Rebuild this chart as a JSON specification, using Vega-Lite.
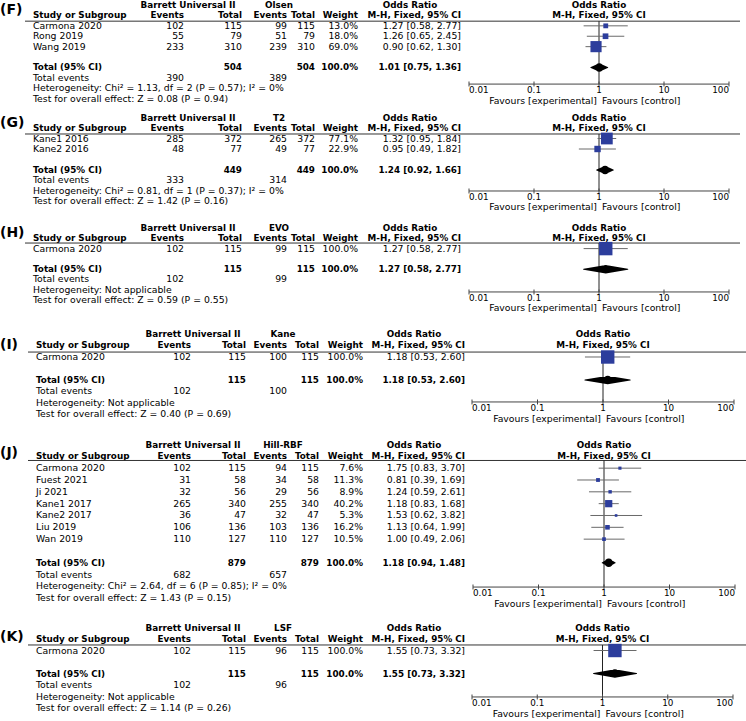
{
"$schema": "https://vega.github.io/schema/vega-lite/v6.json",
"padding": 0,
"spacing": 0,
"bounds": "flush",
"background": "white",
"config": {"view": {"stroke": null}, "text": {"font": "DejaVu Sans", "fontSize": 9.3, "color": "#000"}},
"datasets": {
"cells": [
{"panel":"F","kind":"panel","row":0.5,"col":0,"text":"(F)"},
{"panel":"F","kind":"head1","row":0,"col":4,"text":"Barrett Universal II"},
{"panel":"F","kind":"head1","row":0,"col":6,"text":"Olsen"},
{"panel":"F","kind":"head1","row":0,"col":10,"text":"Odds Ratio"},
{"panel":"F","kind":"head2","row":1,"col":2,"text":"Study or Subgroup"},
{"panel":"F","kind":"head2","row":1,"col":3,"text":"Events"},
{"panel":"F","kind":"head2","row":1,"col":5,"text":"Total"},
{"panel":"F","kind":"head2","row":1,"col":7,"text":"Events"},
{"panel":"F","kind":"head2","row":1,"col":8,"text":"Total"},
{"panel":"F","kind":"head2","row":1,"col":9,"text":"Weight"},
{"panel":"F","kind":"head2","row":1,"col":11,"text":"M-H, Fixed, 95% CI"},
{"panel":"F","kind":"study","row":2,"col":2,"text":"Carmona 2020"},
{"panel":"F","kind":"study","row":2,"col":3,"text":"102"},
{"panel":"F","kind":"study","row":2,"col":5,"text":"115"},
{"panel":"F","kind":"study","row":2,"col":7,"text":"99"},
{"panel":"F","kind":"study","row":2,"col":8,"text":"115"},
{"panel":"F","kind":"study","row":2,"col":9,"text":"13.0%"},
{"panel":"F","kind":"study","row":2,"col":11,"text":"1.27 [0.58, 2.77]"},
{"panel":"F","kind":"study","row":3,"col":2,"text":"Rong 2019"},
{"panel":"F","kind":"study","row":3,"col":3,"text":"55"},
{"panel":"F","kind":"study","row":3,"col":5,"text":"79"},
{"panel":"F","kind":"study","row":3,"col":7,"text":"51"},
{"panel":"F","kind":"study","row":3,"col":8,"text":"79"},
{"panel":"F","kind":"study","row":3,"col":9,"text":"18.0%"},
{"panel":"F","kind":"study","row":3,"col":11,"text":"1.26 [0.65, 2.45]"},
{"panel":"F","kind":"study","row":4,"col":2,"text":"Wang 2019"},
{"panel":"F","kind":"study","row":4,"col":3,"text":"233"},
{"panel":"F","kind":"study","row":4,"col":5,"text":"310"},
{"panel":"F","kind":"study","row":4,"col":7,"text":"239"},
{"panel":"F","kind":"study","row":4,"col":8,"text":"310"},
{"panel":"F","kind":"study","row":4,"col":9,"text":"69.0%"},
{"panel":"F","kind":"study","row":4,"col":11,"text":"0.90 [0.62, 1.30]"},
{"panel":"F","kind":"total","row":6,"col":2,"text":"Total (95% CI)"},
{"panel":"F","kind":"total","row":6,"col":5,"text":"504"},
{"panel":"F","kind":"total","row":6,"col":8,"text":"504"},
{"panel":"F","kind":"total","row":6,"col":9,"text":"100.0%"},
{"panel":"F","kind":"total","row":6,"col":11,"text":"1.01 [0.75, 1.36]"},
{"panel":"F","kind":"totev","row":7,"col":2,"text":"Total events"},
{"panel":"F","kind":"totev","row":7,"col":3,"text":"390"},
{"panel":"F","kind":"totev","row":7,"col":7,"text":"389"},
{"panel":"F","kind":"note","row":8,"col":2,"text":"Heterogeneity: Chi² = 1.13, df = 2 (P = 0.57); I² = 0%"},
{"panel":"F","kind":"note","row":9,"col":2,"text":"Test for overall effect: Z = 0.08 (P = 0.94)"},

{"panel":"G","kind":"panel","row":0.5,"col":0,"text":"(G)"},
{"panel":"G","kind":"head1","row":0,"col":4,"text":"Barrett Universal II"},
{"panel":"G","kind":"head1","row":0,"col":6,"text":"T2"},
{"panel":"G","kind":"head1","row":0,"col":10,"text":"Odds Ratio"},
{"panel":"G","kind":"head2","row":1,"col":2,"text":"Study or Subgroup"},
{"panel":"G","kind":"head2","row":1,"col":3,"text":"Events"},
{"panel":"G","kind":"head2","row":1,"col":5,"text":"Total"},
{"panel":"G","kind":"head2","row":1,"col":7,"text":"Events"},
{"panel":"G","kind":"head2","row":1,"col":8,"text":"Total"},
{"panel":"G","kind":"head2","row":1,"col":9,"text":"Weight"},
{"panel":"G","kind":"head2","row":1,"col":11,"text":"M-H, Fixed, 95% CI"},
{"panel":"G","kind":"study","row":2,"col":2,"text":"Kane1 2016"},
{"panel":"G","kind":"study","row":2,"col":3,"text":"285"},
{"panel":"G","kind":"study","row":2,"col":5,"text":"372"},
{"panel":"G","kind":"study","row":2,"col":7,"text":"265"},
{"panel":"G","kind":"study","row":2,"col":8,"text":"372"},
{"panel":"G","kind":"study","row":2,"col":9,"text":"77.1%"},
{"panel":"G","kind":"study","row":2,"col":11,"text":"1.32 [0.95, 1.84]"},
{"panel":"G","kind":"study","row":3,"col":2,"text":"Kane2 2016"},
{"panel":"G","kind":"study","row":3,"col":3,"text":"48"},
{"panel":"G","kind":"study","row":3,"col":5,"text":"77"},
{"panel":"G","kind":"study","row":3,"col":7,"text":"49"},
{"panel":"G","kind":"study","row":3,"col":8,"text":"77"},
{"panel":"G","kind":"study","row":3,"col":9,"text":"22.9%"},
{"panel":"G","kind":"study","row":3,"col":11,"text":"0.95 [0.49, 1.82]"},
{"panel":"G","kind":"total","row":5,"col":2,"text":"Total (95% CI)"},
{"panel":"G","kind":"total","row":5,"col":5,"text":"449"},
{"panel":"G","kind":"total","row":5,"col":8,"text":"449"},
{"panel":"G","kind":"total","row":5,"col":9,"text":"100.0%"},
{"panel":"G","kind":"total","row":5,"col":11,"text":"1.24 [0.92, 1.66]"},
{"panel":"G","kind":"totev","row":6,"col":2,"text":"Total events"},
{"panel":"G","kind":"totev","row":6,"col":3,"text":"333"},
{"panel":"G","kind":"totev","row":6,"col":7,"text":"314"},
{"panel":"G","kind":"note","row":7,"col":2,"text":"Heterogeneity: Chi² = 0.81, df = 1 (P = 0.37); I² = 0%"},
{"panel":"G","kind":"note","row":8,"col":2,"text":"Test for overall effect: Z = 1.42 (P = 0.16)"},

{"panel":"H","kind":"panel","row":0.46,"col":0,"text":"(H)"},
{"panel":"H","kind":"head1","row":0,"col":4,"text":"Barrett Universal II"},
{"panel":"H","kind":"head1","row":0,"col":6,"text":"EVO"},
{"panel":"H","kind":"head1","row":0,"col":10,"text":"Odds Ratio"},
{"panel":"H","kind":"head2","row":1,"col":2,"text":"Study or Subgroup"},
{"panel":"H","kind":"head2","row":1,"col":3,"text":"Events"},
{"panel":"H","kind":"head2","row":1,"col":5,"text":"Total"},
{"panel":"H","kind":"head2","row":1,"col":7,"text":"Events"},
{"panel":"H","kind":"head2","row":1,"col":8,"text":"Total"},
{"panel":"H","kind":"head2","row":1,"col":9,"text":"Weight"},
{"panel":"H","kind":"head2","row":1,"col":11,"text":"M-H, Fixed, 95% CI"},
{"panel":"H","kind":"study","row":2,"col":2,"text":"Carmona 2020"},
{"panel":"H","kind":"study","row":2,"col":3,"text":"102"},
{"panel":"H","kind":"study","row":2,"col":5,"text":"115"},
{"panel":"H","kind":"study","row":2,"col":7,"text":"99"},
{"panel":"H","kind":"study","row":2,"col":8,"text":"115"},
{"panel":"H","kind":"study","row":2,"col":9,"text":"100.0%"},
{"panel":"H","kind":"study","row":2,"col":11,"text":"1.27 [0.58, 2.77]"},
{"panel":"H","kind":"total","row":4,"col":2,"text":"Total (95% CI)"},
{"panel":"H","kind":"total","row":4,"col":5,"text":"115"},
{"panel":"H","kind":"total","row":4,"col":8,"text":"115"},
{"panel":"H","kind":"total","row":4,"col":9,"text":"100.0%"},
{"panel":"H","kind":"total","row":4,"col":11,"text":"1.27 [0.58, 2.77]"},
{"panel":"H","kind":"totev","row":5,"col":2,"text":"Total events"},
{"panel":"H","kind":"totev","row":5,"col":3,"text":"102"},
{"panel":"H","kind":"totev","row":5,"col":7,"text":"99"},
{"panel":"H","kind":"note","row":6,"col":2,"text":"Heterogeneity: Not applicable"},
{"panel":"H","kind":"note","row":7,"col":2,"text":"Test for overall effect: Z = 0.59 (P = 0.55)"},

{"panel":"I","kind":"panel","row":0.96,"col":0,"text":"(I)"},
{"panel":"I","kind":"head1","row":0,"col":4,"text":"Barrett Universal II"},
{"panel":"I","kind":"head1","row":0,"col":6,"text":"Kane"},
{"panel":"I","kind":"head1","row":0,"col":10,"text":"Odds Ratio"},
{"panel":"I","kind":"head2","row":1,"col":2,"text":"Study or Subgroup"},
{"panel":"I","kind":"head2","row":1,"col":3,"text":"Events"},
{"panel":"I","kind":"head2","row":1,"col":5,"text":"Total"},
{"panel":"I","kind":"head2","row":1,"col":7,"text":"Events"},
{"panel":"I","kind":"head2","row":1,"col":8,"text":"Total"},
{"panel":"I","kind":"head2","row":1,"col":9,"text":"Weight"},
{"panel":"I","kind":"head2","row":1,"col":11,"text":"M-H, Fixed, 95% CI"},
{"panel":"I","kind":"study","row":2,"col":2,"text":"Carmona 2020"},
{"panel":"I","kind":"study","row":2,"col":3,"text":"102"},
{"panel":"I","kind":"study","row":2,"col":5,"text":"115"},
{"panel":"I","kind":"study","row":2,"col":7,"text":"100"},
{"panel":"I","kind":"study","row":2,"col":8,"text":"115"},
{"panel":"I","kind":"study","row":2,"col":9,"text":"100.0%"},
{"panel":"I","kind":"study","row":2,"col":11,"text":"1.18 [0.53, 2.60]"},
{"panel":"I","kind":"total","row":4,"col":2,"text":"Total (95% CI)"},
{"panel":"I","kind":"total","row":4,"col":5,"text":"115"},
{"panel":"I","kind":"total","row":4,"col":8,"text":"115"},
{"panel":"I","kind":"total","row":4,"col":9,"text":"100.0%"},
{"panel":"I","kind":"total","row":4,"col":11,"text":"1.18 [0.53, 2.60]"},
{"panel":"I","kind":"totev","row":5,"col":2,"text":"Total events"},
{"panel":"I","kind":"totev","row":5,"col":3,"text":"102"},
{"panel":"I","kind":"totev","row":5,"col":7,"text":"100"},
{"panel":"I","kind":"note","row":6,"col":2,"text":"Heterogeneity: Not applicable"},
{"panel":"I","kind":"note","row":7,"col":2,"text":"Test for overall effect: Z = 0.40 (P = 0.69)"},

{"panel":"J","kind":"panel","row":0.74,"col":0,"text":"(J)"},
{"panel":"J","kind":"head1","row":0,"col":4,"text":"Barrett Universal II"},
{"panel":"J","kind":"head1","row":0,"col":6,"text":"Hill-RBF"},
{"panel":"J","kind":"head1","row":0,"col":10,"text":"Odds Ratio"},
{"panel":"J","kind":"head2","row":1,"col":2,"text":"Study or Subgroup"},
{"panel":"J","kind":"head2","row":1,"col":3,"text":"Events"},
{"panel":"J","kind":"head2","row":1,"col":5,"text":"Total"},
{"panel":"J","kind":"head2","row":1,"col":7,"text":"Events"},
{"panel":"J","kind":"head2","row":1,"col":8,"text":"Total"},
{"panel":"J","kind":"head2","row":1,"col":9,"text":"Weight"},
{"panel":"J","kind":"head2","row":1,"col":11,"text":"M-H, Fixed, 95% CI"},
{"panel":"J","kind":"study","row":2,"col":2,"text":"Carmona 2020"},
{"panel":"J","kind":"study","row":2,"col":3,"text":"102"},
{"panel":"J","kind":"study","row":2,"col":5,"text":"115"},
{"panel":"J","kind":"study","row":2,"col":7,"text":"94"},
{"panel":"J","kind":"study","row":2,"col":8,"text":"115"},
{"panel":"J","kind":"study","row":2,"col":9,"text":"7.6%"},
{"panel":"J","kind":"study","row":2,"col":11,"text":"1.75 [0.83, 3.70]"},
{"panel":"J","kind":"study","row":3,"col":2,"text":"Fuest 2021"},
{"panel":"J","kind":"study","row":3,"col":3,"text":"31"},
{"panel":"J","kind":"study","row":3,"col":5,"text":"58"},
{"panel":"J","kind":"study","row":3,"col":7,"text":"34"},
{"panel":"J","kind":"study","row":3,"col":8,"text":"58"},
{"panel":"J","kind":"study","row":3,"col":9,"text":"11.3%"},
{"panel":"J","kind":"study","row":3,"col":11,"text":"0.81 [0.39, 1.69]"},
{"panel":"J","kind":"study","row":4,"col":2,"text":"Ji 2021"},
{"panel":"J","kind":"study","row":4,"col":3,"text":"32"},
{"panel":"J","kind":"study","row":4,"col":5,"text":"56"},
{"panel":"J","kind":"study","row":4,"col":7,"text":"29"},
{"panel":"J","kind":"study","row":4,"col":8,"text":"56"},
{"panel":"J","kind":"study","row":4,"col":9,"text":"8.9%"},
{"panel":"J","kind":"study","row":4,"col":11,"text":"1.24 [0.59, 2.61]"},
{"panel":"J","kind":"study","row":5,"col":2,"text":"Kane1 2017"},
{"panel":"J","kind":"study","row":5,"col":3,"text":"265"},
{"panel":"J","kind":"study","row":5,"col":5,"text":"340"},
{"panel":"J","kind":"study","row":5,"col":7,"text":"255"},
{"panel":"J","kind":"study","row":5,"col":8,"text":"340"},
{"panel":"J","kind":"study","row":5,"col":9,"text":"40.2%"},
{"panel":"J","kind":"study","row":5,"col":11,"text":"1.18 [0.83, 1.68]"},
{"panel":"J","kind":"study","row":6,"col":2,"text":"Kane2 2017"},
{"panel":"J","kind":"study","row":6,"col":3,"text":"36"},
{"panel":"J","kind":"study","row":6,"col":5,"text":"47"},
{"panel":"J","kind":"study","row":6,"col":7,"text":"32"},
{"panel":"J","kind":"study","row":6,"col":8,"text":"47"},
{"panel":"J","kind":"study","row":6,"col":9,"text":"5.3%"},
{"panel":"J","kind":"study","row":6,"col":11,"text":"1.53 [0.62, 3.82]"},
{"panel":"J","kind":"study","row":7,"col":2,"text":"Liu 2019"},
{"panel":"J","kind":"study","row":7,"col":3,"text":"106"},
{"panel":"J","kind":"study","row":7,"col":5,"text":"136"},
{"panel":"J","kind":"study","row":7,"col":7,"text":"103"},
{"panel":"J","kind":"study","row":7,"col":8,"text":"136"},
{"panel":"J","kind":"study","row":7,"col":9,"text":"16.2%"},
{"panel":"J","kind":"study","row":7,"col":11,"text":"1.13 [0.64, 1.99]"},
{"panel":"J","kind":"study","row":8,"col":2,"text":"Wan 2019"},
{"panel":"J","kind":"study","row":8,"col":3,"text":"110"},
{"panel":"J","kind":"study","row":8,"col":5,"text":"127"},
{"panel":"J","kind":"study","row":8,"col":7,"text":"110"},
{"panel":"J","kind":"study","row":8,"col":8,"text":"127"},
{"panel":"J","kind":"study","row":8,"col":9,"text":"10.5%"},
{"panel":"J","kind":"study","row":8,"col":11,"text":"1.00 [0.49, 2.06]"},
{"panel":"J","kind":"total","row":10,"col":2,"text":"Total (95% CI)"},
{"panel":"J","kind":"total","row":10,"col":5,"text":"879"},
{"panel":"J","kind":"total","row":10,"col":8,"text":"879"},
{"panel":"J","kind":"total","row":10,"col":9,"text":"100.0%"},
{"panel":"J","kind":"total","row":10,"col":11,"text":"1.18 [0.94, 1.48]"},
{"panel":"J","kind":"totev","row":11,"col":2,"text":"Total events"},
{"panel":"J","kind":"totev","row":11,"col":3,"text":"682"},
{"panel":"J","kind":"totev","row":11,"col":7,"text":"657"},
{"panel":"J","kind":"note","row":12,"col":2,"text":"Heterogeneity: Chi² = 2.64, df = 6 (P = 0.85); I² = 0%"},
{"panel":"J","kind":"note","row":13,"col":2,"text":"Test for overall effect: Z = 1.43 (P = 0.15)"},

{"panel":"K","kind":"panel","row":0.8,"col":0,"text":"(K)"},
{"panel":"K","kind":"head1","row":0,"col":4,"text":"Barrett Universal II"},
{"panel":"K","kind":"head1","row":0,"col":6,"text":"LSF"},
{"panel":"K","kind":"head1","row":0,"col":10,"text":"Odds Ratio"},
{"panel":"K","kind":"head2","row":1,"col":2,"text":"Study or Subgroup"},
{"panel":"K","kind":"head2","row":1,"col":3,"text":"Events"},
{"panel":"K","kind":"head2","row":1,"col":5,"text":"Total"},
{"panel":"K","kind":"head2","row":1,"col":7,"text":"Events"},
{"panel":"K","kind":"head2","row":1,"col":8,"text":"Total"},
{"panel":"K","kind":"head2","row":1,"col":9,"text":"Weight"},
{"panel":"K","kind":"head2","row":1,"col":11,"text":"M-H, Fixed, 95% CI"},
{"panel":"K","kind":"study","row":2,"col":2,"text":"Carmona 2020"},
{"panel":"K","kind":"study","row":2,"col":3,"text":"102"},
{"panel":"K","kind":"study","row":2,"col":5,"text":"115"},
{"panel":"K","kind":"study","row":2,"col":7,"text":"96"},
{"panel":"K","kind":"study","row":2,"col":8,"text":"115"},
{"panel":"K","kind":"study","row":2,"col":9,"text":"100.0%"},
{"panel":"K","kind":"study","row":2,"col":11,"text":"1.55 [0.73, 3.32]"},
{"panel":"K","kind":"total","row":4,"col":2,"text":"Total (95% CI)"},
{"panel":"K","kind":"total","row":4,"col":5,"text":"115"},
{"panel":"K","kind":"total","row":4,"col":8,"text":"115"},
{"panel":"K","kind":"total","row":4,"col":9,"text":"100.0%"},
{"panel":"K","kind":"total","row":4,"col":11,"text":"1.55 [0.73, 3.32]"},
{"panel":"K","kind":"totev","row":5,"col":2,"text":"Total events"},
{"panel":"K","kind":"totev","row":5,"col":3,"text":"102"},
{"panel":"K","kind":"totev","row":5,"col":7,"text":"96"},
{"panel":"K","kind":"note","row":6,"col":2,"text":"Heterogeneity: Not applicable"},
{"panel":"K","kind":"note","row":7,"col":2,"text":"Test for overall effect: Z = 1.14 (P = 0.26)"}
],
"studies": [
{"panel":"F","row":2,"or":1.27,"lo":0.58,"hi":2.77,"weight":13.0},
{"panel":"F","row":3,"or":1.26,"lo":0.65,"hi":2.45,"weight":18.0},
{"panel":"F","row":4,"or":0.90,"lo":0.62,"hi":1.30,"weight":69.0},
{"panel":"G","row":2,"or":1.32,"lo":0.95,"hi":1.84,"weight":77.1},
{"panel":"G","row":3,"or":0.95,"lo":0.49,"hi":1.82,"weight":22.9},
{"panel":"H","row":2,"or":1.27,"lo":0.58,"hi":2.77,"weight":100.0},
{"panel":"I","row":2,"or":1.18,"lo":0.53,"hi":2.60,"weight":100.0},
{"panel":"J","row":2,"or":1.75,"lo":0.83,"hi":3.70,"weight":7.6},
{"panel":"J","row":3,"or":0.81,"lo":0.39,"hi":1.69,"weight":11.3},
{"panel":"J","row":4,"or":1.24,"lo":0.59,"hi":2.61,"weight":8.9},
{"panel":"J","row":5,"or":1.18,"lo":0.83,"hi":1.68,"weight":40.2},
{"panel":"J","row":6,"or":1.53,"lo":0.62,"hi":3.82,"weight":5.3},
{"panel":"J","row":7,"or":1.13,"lo":0.64,"hi":1.99,"weight":16.2},
{"panel":"J","row":8,"or":1.00,"lo":0.49,"hi":2.06,"weight":10.5},
{"panel":"K","row":2,"or":1.55,"lo":0.73,"hi":3.32,"weight":100.0}
],
"diamonds": [
{"panel":"F","row":6,"or":0.75,"peak":0},{"panel":"F","row":6,"or":1.01,"peak":1},{"panel":"F","row":6,"or":1.36,"peak":0},
{"panel":"G","row":5,"or":0.92,"peak":0},{"panel":"G","row":5,"or":1.24,"peak":1},{"panel":"G","row":5,"or":1.66,"peak":0},
{"panel":"H","row":4,"or":0.58,"peak":0},{"panel":"H","row":4,"or":1.27,"peak":1},{"panel":"H","row":4,"or":2.77,"peak":0},
{"panel":"I","row":4,"or":0.53,"peak":0},{"panel":"I","row":4,"or":1.18,"peak":1},{"panel":"I","row":4,"or":2.60,"peak":0},
{"panel":"J","row":10,"or":0.94,"peak":0},{"panel":"J","row":10,"or":1.18,"peak":1},{"panel":"J","row":10,"or":1.48,"peak":0},
{"panel":"K","row":4,"or":0.73,"peak":0},{"panel":"K","row":4,"or":1.55,"peak":1},{"panel":"K","row":4,"or":3.32,"peak":0}
],
"frame": [
{"panel":"F","line":1.55,"axis":7.6,"fav":9.21,"c0":1,"c1":12,"ref":1,"amin":0.01,"amax":100},
{"panel":"G","line":1.57,"axis":7.0,"fav":8.57,"c0":1,"c1":12,"ref":1,"amin":0.01,"amax":100},
{"panel":"H","line":1.46,"axis":6.21,"fav":7.81,"c0":1,"c1":12,"ref":1,"amin":0.01,"amax":100},
{"panel":"I","line":1.57,"axis":5.91,"fav":7.35,"c0":1,"c1":12,"ref":1,"amin":0.01,"amax":100},
{"panel":"J","line":1.35,"axis":12.05,"fav":13.44,"c0":1,"c1":12,"ref":1,"amin":0.01,"amax":100},
{"panel":"K","line":1.52,"axis":6.04,"fav":7.52,"c0":1,"c1":12,"ref":1,"amin":0.01,"amax":100}
],
"axis": [
{"panel":"F","v":0.01,"label":"0.01","row":7.6,"lab":8.19},{"panel":"F","v":0.1,"label":"0.1","row":7.6,"lab":8.19},{"panel":"F","v":1,"label":"1","row":7.6,"lab":8.19},{"panel":"F","v":10,"label":"10","row":7.6,"lab":8.19},{"panel":"F","v":100,"label":"100","row":7.6,"lab":8.19},
{"panel":"G","v":0.01,"label":"0.01","row":7.0,"lab":7.57},{"panel":"G","v":0.1,"label":"0.1","row":7.0,"lab":7.57},{"panel":"G","v":1,"label":"1","row":7.0,"lab":7.57},{"panel":"G","v":10,"label":"10","row":7.0,"lab":7.57},{"panel":"G","v":100,"label":"100","row":7.0,"lab":7.57},
{"panel":"H","v":0.01,"label":"0.01","row":6.21,"lab":6.8},{"panel":"H","v":0.1,"label":"0.1","row":6.21,"lab":6.8},{"panel":"H","v":1,"label":"1","row":6.21,"lab":6.8},{"panel":"H","v":10,"label":"10","row":6.21,"lab":6.8},{"panel":"H","v":100,"label":"100","row":6.21,"lab":6.8},
{"panel":"I","v":0.01,"label":"0.01","row":5.91,"lab":6.43},{"panel":"I","v":0.1,"label":"0.1","row":5.91,"lab":6.43},{"panel":"I","v":1,"label":"1","row":5.91,"lab":6.43},{"panel":"I","v":10,"label":"10","row":5.91,"lab":6.43},{"panel":"I","v":100,"label":"100","row":5.91,"lab":6.43},
{"panel":"J","v":0.01,"label":"0.01","row":12.05,"lab":12.55},{"panel":"J","v":0.1,"label":"0.1","row":12.05,"lab":12.55},{"panel":"J","v":1,"label":"1","row":12.05,"lab":12.55},{"panel":"J","v":10,"label":"10","row":12.05,"lab":12.55},{"panel":"J","v":100,"label":"100","row":12.05,"lab":12.55},
{"panel":"K","v":0.01,"label":"0.01","row":6.04,"lab":6.56},{"panel":"K","v":0.1,"label":"0.1","row":6.04,"lab":6.56},{"panel":"K","v":1,"label":"1","row":6.04,"lab":6.56},{"panel":"K","v":10,"label":"10","row":6.04,"lab":6.56},{"panel":"K","v":100,"label":"100","row":6.04,"lab":6.56}
],
"orhead": [
{"row":0,"or":1,"text":"Odds Ratio"},{"row":1,"or":1,"text":"M-H, Fixed, 95% CI"}
]
},
"vconcat": [
{
"width": 746, "height": 108,
"encoding": {"y": {"field": "row", "type": "quantitative", "axis": null, "scale": {"domain": [-0.485, 9.9], "reverse": true, "nice": false, "zero": false}}},
"layer": [
{"encoding": {"x": {"field": "col", "type": "quantitative", "axis": null, "scale": {"domain": [0,1,2,3,4,5,6,7,8,9,10,11,12], "range": [0,25,33,184,188,242,279,287,315,358,410,461,740], "nice": false, "zero": false}}},
"layer": [
{"data": {"name": "cells"}, "transform": [{"filter": "datum.panel == 'F' && datum.kind == 'panel'"}], "mark": {"type": "text", "align": "left", "baseline": "middle", "fontWeight": "bold", "fontSize": 14}, "encoding": {"text": {"field": "text"}}},
{"data": {"name": "cells"}, "transform": [{"filter": "datum.panel == 'F' && datum.col == 2 && (datum.kind == 'study' || datum.kind == 'totev' || datum.kind == 'note')"}], "mark": {"type": "text", "align": "left", "baseline": "middle"}, "encoding": {"text": {"field": "text"}}},
{"data": {"name": "cells"}, "transform": [{"filter": "datum.panel == 'F' && datum.col == 2 && (datum.kind == 'head2' || datum.kind == 'total')"}], "mark": {"type": "text", "align": "left", "baseline": "middle", "fontWeight": "bold", "fontSize": 8.8}, "encoding": {"text": {"field": "text"}}},
{"data": {"name": "cells"}, "transform": [{"filter": "datum.panel == 'F' && datum.col > 2 && (datum.kind == 'study' || datum.kind == 'totev')"}], "mark": {"type": "text", "align": "right", "baseline": "middle"}, "encoding": {"text": {"field": "text"}}},
{"data": {"name": "cells"}, "transform": [{"filter": "datum.panel == 'F' && datum.col > 2 && (datum.kind == 'head2' || datum.kind == 'total')"}], "mark": {"type": "text", "align": "right", "baseline": "middle", "fontWeight": "bold", "fontSize": 8.8}, "encoding": {"text": {"field": "text"}}},
{"data": {"name": "cells"}, "transform": [{"filter": "datum.panel == 'F' && datum.kind == 'head1'"}], "mark": {"type": "text", "align": "center", "baseline": "middle", "fontWeight": "bold", "fontSize": 8.8}, "encoding": {"text": {"field": "text"}}},
{"data": {"name": "frame"}, "transform": [{"filter": "datum.panel == 'F'"}], "mark": {"type": "rule", "color": "#333", "strokeWidth": 1}, "encoding": {"x": {"field": "c0", "type": "quantitative"}, "x2": {"field": "c1"}, "y": {"field": "line", "type": "quantitative"}}}
]},
{"encoding": {"x": {"field": "or", "type": "quantitative", "axis": null, "scale": {"type": "log", "domain": [0.01, 100], "range": [469, 729], "nice": false}}},
"layer": [
{"data": {"name": "frame"}, "transform": [{"filter": "datum.panel == 'F'"}], "mark": {"type": "rule", "color": "#222"}, "encoding": {"x": {"field": "ref", "type": "quantitative"}, "y": {"field": "line", "type": "quantitative"}, "y2": {"field": "axis"}}},
{"data": {"name": "studies"}, "transform": [{"filter": "datum.panel == 'F'"}], "mark": {"type": "rule", "color": "#6a6a6a"}, "encoding": {"x": {"field": "lo", "type": "quantitative"}, "x2": {"field": "hi"}}},
{"data": {"name": "studies"}, "transform": [{"filter": "datum.panel == 'F'"}], "mark": {"type": "square", "filled": true, "color": "#2c3d9c", "opacity": 1}, "encoding": {"size": {"field": "weight", "type": "quantitative", "legend": null, "scale": {"domain": [0, 100], "range": [0, 180]}}}},
{"data": {"name": "diamonds"}, "transform": [{"filter": "datum.panel == 'F'"}], "mark": {"type": "trail", "color": "#000"}, "encoding": {"size": {"field": "peak", "type": "quantitative", "legend": null, "scale": {"domain": [0, 1], "range": [0, 8.5]}}}},
{"data": {"name": "frame"}, "transform": [{"filter": "datum.panel == 'F'"}], "mark": {"type": "rule", "color": "#444"}, "encoding": {"x": {"field": "amin", "type": "quantitative"}, "x2": {"field": "amax"}, "y": {"field": "axis", "type": "quantitative"}}},
{"data": {"name": "axis"}, "transform": [{"filter": "datum.panel == 'F'"}], "mark": {"type": "tick", "orient": "vertical", "size": 5, "thickness": 1, "color": "#444", "opacity": 1}, "encoding": {"x": {"field": "v", "type": "quantitative"}}},
{"data": {"name": "axis"}, "transform": [{"filter": "datum.panel == 'F' && datum.v < 0.05"}], "mark": {"type": "text", "align": "left", "baseline": "middle", "fontSize": 8.8}, "encoding": {"x": {"field": "v", "type": "quantitative"}, "y": {"field": "lab", "type": "quantitative"}, "text": {"field": "label"}}},
{"data": {"name": "axis"}, "transform": [{"filter": "datum.panel == 'F' && datum.v > 0.05 && datum.v < 50"}], "mark": {"type": "text", "align": "center", "baseline": "middle", "fontSize": 8.8}, "encoding": {"x": {"field": "v", "type": "quantitative"}, "y": {"field": "lab", "type": "quantitative"}, "text": {"field": "label"}}},
{"data": {"name": "axis"}, "transform": [{"filter": "datum.panel == 'F' && datum.v > 50"}], "mark": {"type": "text", "align": "right", "baseline": "middle", "fontSize": 8.8}, "encoding": {"x": {"field": "v", "type": "quantitative"}, "y": {"field": "lab", "type": "quantitative"}, "text": {"field": "label"}}},
{"data": {"name": "frame"}, "transform": [{"filter": "datum.panel == 'F'"}], "mark": {"type": "text", "align": "right", "baseline": "middle", "dx": -2}, "encoding": {"x": {"field": "ref", "type": "quantitative"}, "y": {"field": "fav", "type": "quantitative"}, "text": {"value": "Favours [experimental]"}}},
{"data": {"name": "frame"}, "transform": [{"filter": "datum.panel == 'F'"}], "mark": {"type": "text", "align": "left", "baseline": "middle", "dx": 3}, "encoding": {"x": {"field": "ref", "type": "quantitative"}, "y": {"field": "fav", "type": "quantitative"}, "text": {"value": "Favours [control]"}}},
{"data": {"name": "orhead"}, "mark": {"type": "text", "align": "center", "baseline": "middle", "fontWeight": "bold", "fontSize": 8.8}, "encoding": {"text": {"field": "text"}}}
],
"resolve": {"scale": {"size": "independent"}}}
],
"resolve": {"scale": {"x": "independent"}}
},
{
"width": 746, "height": 107,
"encoding": {"y": {"field": "row", "type": "quantitative", "axis": null, "scale": {"domain": [-0.905, 9.286], "reverse": true, "nice": false, "zero": false}}},
"layer": [
{"encoding": {"x": {"field": "col", "type": "quantitative", "axis": null, "scale": {"domain": [0,1,2,3,4,5,6,7,8,9,10,11,12], "range": [0,25,33,184,188,242,279,287,315,358,410,461,740], "nice": false, "zero": false}}},
"layer": [
{"data": {"name": "cells"}, "transform": [{"filter": "datum.panel == 'G' && datum.kind == 'panel'"}], "mark": {"type": "text", "align": "left", "baseline": "middle", "fontWeight": "bold", "fontSize": 14}, "encoding": {"text": {"field": "text"}}},
{"data": {"name": "cells"}, "transform": [{"filter": "datum.panel == 'G' && datum.col == 2 && (datum.kind == 'study' || datum.kind == 'totev' || datum.kind == 'note')"}], "mark": {"type": "text", "align": "left", "baseline": "middle"}, "encoding": {"text": {"field": "text"}}},
{"data": {"name": "cells"}, "transform": [{"filter": "datum.panel == 'G' && datum.col == 2 && (datum.kind == 'head2' || datum.kind == 'total')"}], "mark": {"type": "text", "align": "left", "baseline": "middle", "fontWeight": "bold", "fontSize": 8.8}, "encoding": {"text": {"field": "text"}}},
{"data": {"name": "cells"}, "transform": [{"filter": "datum.panel == 'G' && datum.col > 2 && (datum.kind == 'study' || datum.kind == 'totev')"}], "mark": {"type": "text", "align": "right", "baseline": "middle"}, "encoding": {"text": {"field": "text"}}},
{"data": {"name": "cells"}, "transform": [{"filter": "datum.panel == 'G' && datum.col > 2 && (datum.kind == 'head2' || datum.kind == 'total')"}], "mark": {"type": "text", "align": "right", "baseline": "middle", "fontWeight": "bold", "fontSize": 8.8}, "encoding": {"text": {"field": "text"}}},
{"data": {"name": "cells"}, "transform": [{"filter": "datum.panel == 'G' && datum.kind == 'head1'"}], "mark": {"type": "text", "align": "center", "baseline": "middle", "fontWeight": "bold", "fontSize": 8.8}, "encoding": {"text": {"field": "text"}}},
{"data": {"name": "frame"}, "transform": [{"filter": "datum.panel == 'G'"}], "mark": {"type": "rule", "color": "#333", "strokeWidth": 1}, "encoding": {"x": {"field": "c0", "type": "quantitative"}, "x2": {"field": "c1"}, "y": {"field": "line", "type": "quantitative"}}}
]},
{"encoding": {"x": {"field": "or", "type": "quantitative", "axis": null, "scale": {"type": "log", "domain": [0.01, 100], "range": [469, 729], "nice": false}}},
"layer": [
{"data": {"name": "frame"}, "transform": [{"filter": "datum.panel == 'G'"}], "mark": {"type": "rule", "color": "#222"}, "encoding": {"x": {"field": "ref", "type": "quantitative"}, "y": {"field": "line", "type": "quantitative"}, "y2": {"field": "axis"}}},
{"data": {"name": "studies"}, "transform": [{"filter": "datum.panel == 'G'"}], "mark": {"type": "rule", "color": "#6a6a6a"}, "encoding": {"x": {"field": "lo", "type": "quantitative"}, "x2": {"field": "hi"}}},
{"data": {"name": "studies"}, "transform": [{"filter": "datum.panel == 'G'"}], "mark": {"type": "square", "filled": true, "color": "#2c3d9c", "opacity": 1}, "encoding": {"size": {"field": "weight", "type": "quantitative", "legend": null, "scale": {"domain": [0, 100], "range": [0, 180]}}}},
{"data": {"name": "diamonds"}, "transform": [{"filter": "datum.panel == 'G'"}], "mark": {"type": "trail", "color": "#000"}, "encoding": {"size": {"field": "peak", "type": "quantitative", "legend": null, "scale": {"domain": [0, 1], "range": [0, 8.5]}}}},
{"data": {"name": "frame"}, "transform": [{"filter": "datum.panel == 'G'"}], "mark": {"type": "rule", "color": "#444"}, "encoding": {"x": {"field": "amin", "type": "quantitative"}, "x2": {"field": "amax"}, "y": {"field": "axis", "type": "quantitative"}}},
{"data": {"name": "axis"}, "transform": [{"filter": "datum.panel == 'G'"}], "mark": {"type": "tick", "orient": "vertical", "size": 5, "thickness": 1, "color": "#444", "opacity": 1}, "encoding": {"x": {"field": "v", "type": "quantitative"}}},
{"data": {"name": "axis"}, "transform": [{"filter": "datum.panel == 'G' && datum.v < 0.05"}], "mark": {"type": "text", "align": "left", "baseline": "middle", "fontSize": 8.8}, "encoding": {"x": {"field": "v", "type": "quantitative"}, "y": {"field": "lab", "type": "quantitative"}, "text": {"field": "label"}}},
{"data": {"name": "axis"}, "transform": [{"filter": "datum.panel == 'G' && datum.v > 0.05 && datum.v < 50"}], "mark": {"type": "text", "align": "center", "baseline": "middle", "fontSize": 8.8}, "encoding": {"x": {"field": "v", "type": "quantitative"}, "y": {"field": "lab", "type": "quantitative"}, "text": {"field": "label"}}},
{"data": {"name": "axis"}, "transform": [{"filter": "datum.panel == 'G' && datum.v > 50"}], "mark": {"type": "text", "align": "right", "baseline": "middle", "fontSize": 8.8}, "encoding": {"x": {"field": "v", "type": "quantitative"}, "y": {"field": "lab", "type": "quantitative"}, "text": {"field": "label"}}},
{"data": {"name": "frame"}, "transform": [{"filter": "datum.panel == 'G'"}], "mark": {"type": "text", "align": "right", "baseline": "middle", "dx": -2}, "encoding": {"x": {"field": "ref", "type": "quantitative"}, "y": {"field": "fav", "type": "quantitative"}, "text": {"value": "Favours [experimental]"}}},
{"data": {"name": "frame"}, "transform": [{"filter": "datum.panel == 'G'"}], "mark": {"type": "text", "align": "left", "baseline": "middle", "dx": 3}, "encoding": {"x": {"field": "ref", "type": "quantitative"}, "y": {"field": "fav", "type": "quantitative"}, "text": {"value": "Favours [control]"}}},
{"data": {"name": "orhead"}, "mark": {"type": "text", "align": "center", "baseline": "middle", "fontWeight": "bold", "fontSize": 8.8}, "encoding": {"text": {"field": "text"}}}
],
"resolve": {"scale": {"size": "independent"}}}
],
"resolve": {"scale": {"x": "independent"}}
},
{
"width": 746, "height": 103,
"encoding": {"y": {"field": "row", "type": "quantitative", "axis": null, "scale": {"domain": [-1.262, 8.738], "reverse": true, "nice": false, "zero": false}}},
"layer": [
{"encoding": {"x": {"field": "col", "type": "quantitative", "axis": null, "scale": {"domain": [0,1,2,3,4,5,6,7,8,9,10,11,12], "range": [0,25,33,184,188,242,279,287,315,358,410,461,740], "nice": false, "zero": false}}},
"layer": [
{"data": {"name": "cells"}, "transform": [{"filter": "datum.panel == 'H' && datum.kind == 'panel'"}], "mark": {"type": "text", "align": "left", "baseline": "middle", "fontWeight": "bold", "fontSize": 14}, "encoding": {"text": {"field": "text"}}},
{"data": {"name": "cells"}, "transform": [{"filter": "datum.panel == 'H' && datum.col == 2 && (datum.kind == 'study' || datum.kind == 'totev' || datum.kind == 'note')"}], "mark": {"type": "text", "align": "left", "baseline": "middle"}, "encoding": {"text": {"field": "text"}}},
{"data": {"name": "cells"}, "transform": [{"filter": "datum.panel == 'H' && datum.col == 2 && (datum.kind == 'head2' || datum.kind == 'total')"}], "mark": {"type": "text", "align": "left", "baseline": "middle", "fontWeight": "bold", "fontSize": 8.8}, "encoding": {"text": {"field": "text"}}},
{"data": {"name": "cells"}, "transform": [{"filter": "datum.panel == 'H' && datum.col > 2 && (datum.kind == 'study' || datum.kind == 'totev')"}], "mark": {"type": "text", "align": "right", "baseline": "middle"}, "encoding": {"text": {"field": "text"}}},
{"data": {"name": "cells"}, "transform": [{"filter": "datum.panel == 'H' && datum.col > 2 && (datum.kind == 'head2' || datum.kind == 'total')"}], "mark": {"type": "text", "align": "right", "baseline": "middle", "fontWeight": "bold", "fontSize": 8.8}, "encoding": {"text": {"field": "text"}}},
{"data": {"name": "cells"}, "transform": [{"filter": "datum.panel == 'H' && datum.kind == 'head1'"}], "mark": {"type": "text", "align": "center", "baseline": "middle", "fontWeight": "bold", "fontSize": 8.8}, "encoding": {"text": {"field": "text"}}},
{"data": {"name": "frame"}, "transform": [{"filter": "datum.panel == 'H'"}], "mark": {"type": "rule", "color": "#333", "strokeWidth": 1}, "encoding": {"x": {"field": "c0", "type": "quantitative"}, "x2": {"field": "c1"}, "y": {"field": "line", "type": "quantitative"}}}
]},
{"encoding": {"x": {"field": "or", "type": "quantitative", "axis": null, "scale": {"type": "log", "domain": [0.01, 100], "range": [469, 729], "nice": false}}},
"layer": [
{"data": {"name": "frame"}, "transform": [{"filter": "datum.panel == 'H'"}], "mark": {"type": "rule", "color": "#222"}, "encoding": {"x": {"field": "ref", "type": "quantitative"}, "y": {"field": "line", "type": "quantitative"}, "y2": {"field": "axis"}}},
{"data": {"name": "studies"}, "transform": [{"filter": "datum.panel == 'H'"}], "mark": {"type": "rule", "color": "#6a6a6a"}, "encoding": {"x": {"field": "lo", "type": "quantitative"}, "x2": {"field": "hi"}}},
{"data": {"name": "studies"}, "transform": [{"filter": "datum.panel == 'H'"}], "mark": {"type": "square", "filled": true, "color": "#2c3d9c", "opacity": 1}, "encoding": {"size": {"field": "weight", "type": "quantitative", "legend": null, "scale": {"domain": [0, 100], "range": [0, 180]}}}},
{"data": {"name": "diamonds"}, "transform": [{"filter": "datum.panel == 'H'"}], "mark": {"type": "trail", "color": "#000"}, "encoding": {"size": {"field": "peak", "type": "quantitative", "legend": null, "scale": {"domain": [0, 1], "range": [0, 8.5]}}}},
{"data": {"name": "frame"}, "transform": [{"filter": "datum.panel == 'H'"}], "mark": {"type": "rule", "color": "#444"}, "encoding": {"x": {"field": "amin", "type": "quantitative"}, "x2": {"field": "amax"}, "y": {"field": "axis", "type": "quantitative"}}},
{"data": {"name": "axis"}, "transform": [{"filter": "datum.panel == 'H'"}], "mark": {"type": "tick", "orient": "vertical", "size": 5, "thickness": 1, "color": "#444", "opacity": 1}, "encoding": {"x": {"field": "v", "type": "quantitative"}}},
{"data": {"name": "axis"}, "transform": [{"filter": "datum.panel == 'H' && datum.v < 0.05"}], "mark": {"type": "text", "align": "left", "baseline": "middle", "fontSize": 8.8}, "encoding": {"x": {"field": "v", "type": "quantitative"}, "y": {"field": "lab", "type": "quantitative"}, "text": {"field": "label"}}},
{"data": {"name": "axis"}, "transform": [{"filter": "datum.panel == 'H' && datum.v > 0.05 && datum.v < 50"}], "mark": {"type": "text", "align": "center", "baseline": "middle", "fontSize": 8.8}, "encoding": {"x": {"field": "v", "type": "quantitative"}, "y": {"field": "lab", "type": "quantitative"}, "text": {"field": "label"}}},
{"data": {"name": "axis"}, "transform": [{"filter": "datum.panel == 'H' && datum.v > 50"}], "mark": {"type": "text", "align": "right", "baseline": "middle", "fontSize": 8.8}, "encoding": {"x": {"field": "v", "type": "quantitative"}, "y": {"field": "lab", "type": "quantitative"}, "text": {"field": "label"}}},
{"data": {"name": "frame"}, "transform": [{"filter": "datum.panel == 'H'"}], "mark": {"type": "text", "align": "right", "baseline": "middle", "dx": -2}, "encoding": {"x": {"field": "ref", "type": "quantitative"}, "y": {"field": "fav", "type": "quantitative"}, "text": {"value": "Favours [experimental]"}}},
{"data": {"name": "frame"}, "transform": [{"filter": "datum.panel == 'H'"}], "mark": {"type": "text", "align": "left", "baseline": "middle", "dx": 3}, "encoding": {"x": {"field": "ref", "type": "quantitative"}, "y": {"field": "fav", "type": "quantitative"}, "text": {"value": "Favours [control]"}}},
{"data": {"name": "orhead"}, "mark": {"type": "text", "align": "center", "baseline": "middle", "fontWeight": "bold", "fontSize": 8.8}, "encoding": {"text": {"field": "text"}}}
],
"resolve": {"scale": {"size": "independent"}}}
],
"resolve": {"scale": {"x": "independent"}}
},
{
"width": 746, "height": 112,
"encoding": {"y": {"field": "row", "type": "quantitative", "axis": null, "scale": {"domain": [-1.391, 8.348], "reverse": true, "nice": false, "zero": false}}},
"layer": [
{"encoding": {"x": {"field": "col", "type": "quantitative", "axis": null, "scale": {"domain": [0,1,2,3,4,5,6,7,8,9,10,11,12], "range": [0,28,36,191,193,246,283,287,319,363,414,465,746], "nice": false, "zero": false}}},
"layer": [
{"data": {"name": "cells"}, "transform": [{"filter": "datum.panel == 'I' && datum.kind == 'panel'"}], "mark": {"type": "text", "align": "left", "baseline": "middle", "fontWeight": "bold", "fontSize": 14}, "encoding": {"text": {"field": "text"}}},
{"data": {"name": "cells"}, "transform": [{"filter": "datum.panel == 'I' && datum.col == 2 && (datum.kind == 'study' || datum.kind == 'totev' || datum.kind == 'note')"}], "mark": {"type": "text", "align": "left", "baseline": "middle"}, "encoding": {"text": {"field": "text"}}},
{"data": {"name": "cells"}, "transform": [{"filter": "datum.panel == 'I' && datum.col == 2 && (datum.kind == 'head2' || datum.kind == 'total')"}], "mark": {"type": "text", "align": "left", "baseline": "middle", "fontWeight": "bold", "fontSize": 8.8}, "encoding": {"text": {"field": "text"}}},
{"data": {"name": "cells"}, "transform": [{"filter": "datum.panel == 'I' && datum.col > 2 && (datum.kind == 'study' || datum.kind == 'totev')"}], "mark": {"type": "text", "align": "right", "baseline": "middle"}, "encoding": {"text": {"field": "text"}}},
{"data": {"name": "cells"}, "transform": [{"filter": "datum.panel == 'I' && datum.col > 2 && (datum.kind == 'head2' || datum.kind == 'total')"}], "mark": {"type": "text", "align": "right", "baseline": "middle", "fontWeight": "bold", "fontSize": 8.8}, "encoding": {"text": {"field": "text"}}},
{"data": {"name": "cells"}, "transform": [{"filter": "datum.panel == 'I' && datum.kind == 'head1'"}], "mark": {"type": "text", "align": "center", "baseline": "middle", "fontWeight": "bold", "fontSize": 8.8}, "encoding": {"text": {"field": "text"}}},
{"data": {"name": "frame"}, "transform": [{"filter": "datum.panel == 'I'"}], "mark": {"type": "rule", "color": "#333", "strokeWidth": 1}, "encoding": {"x": {"field": "c0", "type": "quantitative"}, "x2": {"field": "c1"}, "y": {"field": "line", "type": "quantitative"}}}
]},
{"encoding": {"x": {"field": "or", "type": "quantitative", "axis": null, "scale": {"type": "log", "domain": [0.01, 100], "range": [472, 734], "nice": false}}},
"layer": [
{"data": {"name": "frame"}, "transform": [{"filter": "datum.panel == 'I'"}], "mark": {"type": "rule", "color": "#222"}, "encoding": {"x": {"field": "ref", "type": "quantitative"}, "y": {"field": "line", "type": "quantitative"}, "y2": {"field": "axis"}}},
{"data": {"name": "studies"}, "transform": [{"filter": "datum.panel == 'I'"}], "mark": {"type": "rule", "color": "#6a6a6a"}, "encoding": {"x": {"field": "lo", "type": "quantitative"}, "x2": {"field": "hi"}}},
{"data": {"name": "studies"}, "transform": [{"filter": "datum.panel == 'I'"}], "mark": {"type": "square", "filled": true, "color": "#2c3d9c", "opacity": 1}, "encoding": {"size": {"field": "weight", "type": "quantitative", "legend": null, "scale": {"domain": [0, 100], "range": [0, 180]}}}},
{"data": {"name": "diamonds"}, "transform": [{"filter": "datum.panel == 'I'"}], "mark": {"type": "trail", "color": "#000"}, "encoding": {"size": {"field": "peak", "type": "quantitative", "legend": null, "scale": {"domain": [0, 1], "range": [0, 8.5]}}}},
{"data": {"name": "frame"}, "transform": [{"filter": "datum.panel == 'I'"}], "mark": {"type": "rule", "color": "#444"}, "encoding": {"x": {"field": "amin", "type": "quantitative"}, "x2": {"field": "amax"}, "y": {"field": "axis", "type": "quantitative"}}},
{"data": {"name": "axis"}, "transform": [{"filter": "datum.panel == 'I'"}], "mark": {"type": "tick", "orient": "vertical", "size": 5, "thickness": 1, "color": "#444", "opacity": 1}, "encoding": {"x": {"field": "v", "type": "quantitative"}}},
{"data": {"name": "axis"}, "transform": [{"filter": "datum.panel == 'I' && datum.v < 0.05"}], "mark": {"type": "text", "align": "left", "baseline": "middle", "fontSize": 8.8}, "encoding": {"x": {"field": "v", "type": "quantitative"}, "y": {"field": "lab", "type": "quantitative"}, "text": {"field": "label"}}},
{"data": {"name": "axis"}, "transform": [{"filter": "datum.panel == 'I' && datum.v > 0.05 && datum.v < 50"}], "mark": {"type": "text", "align": "center", "baseline": "middle", "fontSize": 8.8}, "encoding": {"x": {"field": "v", "type": "quantitative"}, "y": {"field": "lab", "type": "quantitative"}, "text": {"field": "label"}}},
{"data": {"name": "axis"}, "transform": [{"filter": "datum.panel == 'I' && datum.v > 50"}], "mark": {"type": "text", "align": "right", "baseline": "middle", "fontSize": 8.8}, "encoding": {"x": {"field": "v", "type": "quantitative"}, "y": {"field": "lab", "type": "quantitative"}, "text": {"field": "label"}}},
{"data": {"name": "frame"}, "transform": [{"filter": "datum.panel == 'I'"}], "mark": {"type": "text", "align": "right", "baseline": "middle", "dx": -2}, "encoding": {"x": {"field": "ref", "type": "quantitative"}, "y": {"field": "fav", "type": "quantitative"}, "text": {"value": "Favours [experimental]"}}},
{"data": {"name": "frame"}, "transform": [{"filter": "datum.panel == 'I'"}], "mark": {"type": "text", "align": "left", "baseline": "middle", "dx": 3}, "encoding": {"x": {"field": "ref", "type": "quantitative"}, "y": {"field": "fav", "type": "quantitative"}, "text": {"value": "Favours [control]"}}},
{"data": {"name": "orhead"}, "mark": {"type": "text", "align": "center", "baseline": "middle", "fontWeight": "bold", "fontSize": 8.8}, "encoding": {"text": {"field": "text"}}}
],
"resolve": {"scale": {"size": "independent"}}}
],
"resolve": {"scale": {"x": "independent"}}
},
{
"width": 746, "height": 183,
"encoding": {"y": {"field": "row", "type": "quantitative", "axis": null, "scale": {"domain": [-1.226, 14.243], "reverse": true, "nice": false, "zero": false}}},
"layer": [
{"encoding": {"x": {"field": "col", "type": "quantitative", "axis": null, "scale": {"domain": [0,1,2,3,4,5,6,7,8,9,10,11,12], "range": [0,28,36,191,193,246,283,287,319,363,414,465,746], "nice": false, "zero": false}}},
"layer": [
{"data": {"name": "cells"}, "transform": [{"filter": "datum.panel == 'J' && datum.kind == 'panel'"}], "mark": {"type": "text", "align": "left", "baseline": "middle", "fontWeight": "bold", "fontSize": 14}, "encoding": {"text": {"field": "text"}}},
{"data": {"name": "cells"}, "transform": [{"filter": "datum.panel == 'J' && datum.col == 2 && (datum.kind == 'study' || datum.kind == 'totev' || datum.kind == 'note')"}], "mark": {"type": "text", "align": "left", "baseline": "middle"}, "encoding": {"text": {"field": "text"}}},
{"data": {"name": "cells"}, "transform": [{"filter": "datum.panel == 'J' && datum.col == 2 && (datum.kind == 'head2' || datum.kind == 'total')"}], "mark": {"type": "text", "align": "left", "baseline": "middle", "fontWeight": "bold", "fontSize": 8.8}, "encoding": {"text": {"field": "text"}}},
{"data": {"name": "cells"}, "transform": [{"filter": "datum.panel == 'J' && datum.col > 2 && (datum.kind == 'study' || datum.kind == 'totev')"}], "mark": {"type": "text", "align": "right", "baseline": "middle"}, "encoding": {"text": {"field": "text"}}},
{"data": {"name": "cells"}, "transform": [{"filter": "datum.panel == 'J' && datum.col > 2 && (datum.kind == 'head2' || datum.kind == 'total')"}], "mark": {"type": "text", "align": "right", "baseline": "middle", "fontWeight": "bold", "fontSize": 8.8}, "encoding": {"text": {"field": "text"}}},
{"data": {"name": "cells"}, "transform": [{"filter": "datum.panel == 'J' && datum.kind == 'head1'"}], "mark": {"type": "text", "align": "center", "baseline": "middle", "fontWeight": "bold", "fontSize": 8.8}, "encoding": {"text": {"field": "text"}}},
{"data": {"name": "frame"}, "transform": [{"filter": "datum.panel == 'J'"}], "mark": {"type": "rule", "color": "#333", "strokeWidth": 1}, "encoding": {"x": {"field": "c0", "type": "quantitative"}, "x2": {"field": "c1"}, "y": {"field": "line", "type": "quantitative"}}}
]},
{"encoding": {"x": {"field": "or", "type": "quantitative", "axis": null, "scale": {"type": "log", "domain": [0.01, 100], "range": [473, 735], "nice": false}}},
"layer": [
{"data": {"name": "frame"}, "transform": [{"filter": "datum.panel == 'J'"}], "mark": {"type": "rule", "color": "#222"}, "encoding": {"x": {"field": "ref", "type": "quantitative"}, "y": {"field": "line", "type": "quantitative"}, "y2": {"field": "axis"}}},
{"data": {"name": "studies"}, "transform": [{"filter": "datum.panel == 'J'"}], "mark": {"type": "rule", "color": "#6a6a6a"}, "encoding": {"x": {"field": "lo", "type": "quantitative"}, "x2": {"field": "hi"}}},
{"data": {"name": "studies"}, "transform": [{"filter": "datum.panel == 'J'"}], "mark": {"type": "square", "filled": true, "color": "#2c3d9c", "opacity": 1}, "encoding": {"size": {"field": "weight", "type": "quantitative", "legend": null, "scale": {"domain": [0, 100], "range": [0, 130]}}}},
{"data": {"name": "diamonds"}, "transform": [{"filter": "datum.panel == 'J'"}], "mark": {"type": "trail", "color": "#000"}, "encoding": {"size": {"field": "peak", "type": "quantitative", "legend": null, "scale": {"domain": [0, 1], "range": [0, 8.5]}}}},
{"data": {"name": "frame"}, "transform": [{"filter": "datum.panel == 'J'"}], "mark": {"type": "rule", "color": "#444"}, "encoding": {"x": {"field": "amin", "type": "quantitative"}, "x2": {"field": "amax"}, "y": {"field": "axis", "type": "quantitative"}}},
{"data": {"name": "axis"}, "transform": [{"filter": "datum.panel == 'J'"}], "mark": {"type": "tick", "orient": "vertical", "size": 5, "thickness": 1, "color": "#444", "opacity": 1}, "encoding": {"x": {"field": "v", "type": "quantitative"}}},
{"data": {"name": "axis"}, "transform": [{"filter": "datum.panel == 'J' && datum.v < 0.05"}], "mark": {"type": "text", "align": "left", "baseline": "middle", "fontSize": 8.8}, "encoding": {"x": {"field": "v", "type": "quantitative"}, "y": {"field": "lab", "type": "quantitative"}, "text": {"field": "label"}}},
{"data": {"name": "axis"}, "transform": [{"filter": "datum.panel == 'J' && datum.v > 0.05 && datum.v < 50"}], "mark": {"type": "text", "align": "center", "baseline": "middle", "fontSize": 8.8}, "encoding": {"x": {"field": "v", "type": "quantitative"}, "y": {"field": "lab", "type": "quantitative"}, "text": {"field": "label"}}},
{"data": {"name": "axis"}, "transform": [{"filter": "datum.panel == 'J' && datum.v > 50"}], "mark": {"type": "text", "align": "right", "baseline": "middle", "fontSize": 8.8}, "encoding": {"x": {"field": "v", "type": "quantitative"}, "y": {"field": "lab", "type": "quantitative"}, "text": {"field": "label"}}},
{"data": {"name": "frame"}, "transform": [{"filter": "datum.panel == 'J'"}], "mark": {"type": "text", "align": "right", "baseline": "middle", "dx": -2}, "encoding": {"x": {"field": "ref", "type": "quantitative"}, "y": {"field": "fav", "type": "quantitative"}, "text": {"value": "Favours [experimental]"}}},
{"data": {"name": "frame"}, "transform": [{"filter": "datum.panel == 'J'"}], "mark": {"type": "text", "align": "left", "baseline": "middle", "dx": 3}, "encoding": {"x": {"field": "ref", "type": "quantitative"}, "y": {"field": "fav", "type": "quantitative"}, "text": {"value": "Favours [control]"}}},
{"data": {"name": "orhead"}, "mark": {"type": "text", "align": "center", "baseline": "middle", "fontWeight": "bold", "fontSize": 8.8}, "encoding": {"text": {"field": "text"}}}
],
"resolve": {"scale": {"size": "independent"}}}
],
"resolve": {"scale": {"x": "independent"}}
},
{
"width": 746, "height": 108,
"encoding": {"y": {"field": "row", "type": "quantitative", "axis": null, "scale": {"domain": [-1.261, 8.13], "reverse": true, "nice": false, "zero": false}}},
"layer": [
{"encoding": {"x": {"field": "col", "type": "quantitative", "axis": null, "scale": {"domain": [0,1,2,3,4,5,6,7,8,9,10,11,12], "range": [0,28,36,191,193,246,283,287,319,363,414,465,746], "nice": false, "zero": false}}},
"layer": [
{"data": {"name": "cells"}, "transform": [{"filter": "datum.panel == 'K' && datum.kind == 'panel'"}], "mark": {"type": "text", "align": "left", "baseline": "middle", "fontWeight": "bold", "fontSize": 14}, "encoding": {"text": {"field": "text"}}},
{"data": {"name": "cells"}, "transform": [{"filter": "datum.panel == 'K' && datum.col == 2 && (datum.kind == 'study' || datum.kind == 'totev' || datum.kind == 'note')"}], "mark": {"type": "text", "align": "left", "baseline": "middle"}, "encoding": {"text": {"field": "text"}}},
{"data": {"name": "cells"}, "transform": [{"filter": "datum.panel == 'K' && datum.col == 2 && (datum.kind == 'head2' || datum.kind == 'total')"}], "mark": {"type": "text", "align": "left", "baseline": "middle", "fontWeight": "bold", "fontSize": 8.8}, "encoding": {"text": {"field": "text"}}},
{"data": {"name": "cells"}, "transform": [{"filter": "datum.panel == 'K' && datum.col > 2 && (datum.kind == 'study' || datum.kind == 'totev')"}], "mark": {"type": "text", "align": "right", "baseline": "middle"}, "encoding": {"text": {"field": "text"}}},
{"data": {"name": "cells"}, "transform": [{"filter": "datum.panel == 'K' && datum.col > 2 && (datum.kind == 'head2' || datum.kind == 'total')"}], "mark": {"type": "text", "align": "right", "baseline": "middle", "fontWeight": "bold", "fontSize": 8.8}, "encoding": {"text": {"field": "text"}}},
{"data": {"name": "cells"}, "transform": [{"filter": "datum.panel == 'K' && datum.kind == 'head1'"}], "mark": {"type": "text", "align": "center", "baseline": "middle", "fontWeight": "bold", "fontSize": 8.8}, "encoding": {"text": {"field": "text"}}},
{"data": {"name": "frame"}, "transform": [{"filter": "datum.panel == 'K'"}], "mark": {"type": "rule", "color": "#333", "strokeWidth": 1}, "encoding": {"x": {"field": "c0", "type": "quantitative"}, "x2": {"field": "c1"}, "y": {"field": "line", "type": "quantitative"}}}
]},
{"encoding": {"x": {"field": "or", "type": "quantitative", "axis": null, "scale": {"type": "log", "domain": [0.01, 100], "range": [472, 733], "nice": false}}},
"layer": [
{"data": {"name": "frame"}, "transform": [{"filter": "datum.panel == 'K'"}], "mark": {"type": "rule", "color": "#222"}, "encoding": {"x": {"field": "ref", "type": "quantitative"}, "y": {"field": "line", "type": "quantitative"}, "y2": {"field": "axis"}}},
{"data": {"name": "studies"}, "transform": [{"filter": "datum.panel == 'K'"}], "mark": {"type": "rule", "color": "#6a6a6a"}, "encoding": {"x": {"field": "lo", "type": "quantitative"}, "x2": {"field": "hi"}}},
{"data": {"name": "studies"}, "transform": [{"filter": "datum.panel == 'K'"}], "mark": {"type": "square", "filled": true, "color": "#2c3d9c", "opacity": 1}, "encoding": {"size": {"field": "weight", "type": "quantitative", "legend": null, "scale": {"domain": [0, 100], "range": [0, 180]}}}},
{"data": {"name": "diamonds"}, "transform": [{"filter": "datum.panel == 'K'"}], "mark": {"type": "trail", "color": "#000"}, "encoding": {"size": {"field": "peak", "type": "quantitative", "legend": null, "scale": {"domain": [0, 1], "range": [0, 8.5]}}}},
{"data": {"name": "frame"}, "transform": [{"filter": "datum.panel == 'K'"}], "mark": {"type": "rule", "color": "#444"}, "encoding": {"x": {"field": "amin", "type": "quantitative"}, "x2": {"field": "amax"}, "y": {"field": "axis", "type": "quantitative"}}},
{"data": {"name": "axis"}, "transform": [{"filter": "datum.panel == 'K'"}], "mark": {"type": "tick", "orient": "vertical", "size": 5, "thickness": 1, "color": "#444", "opacity": 1}, "encoding": {"x": {"field": "v", "type": "quantitative"}}},
{"data": {"name": "axis"}, "transform": [{"filter": "datum.panel == 'K' && datum.v < 0.05"}], "mark": {"type": "text", "align": "left", "baseline": "middle", "fontSize": 8.8}, "encoding": {"x": {"field": "v", "type": "quantitative"}, "y": {"field": "lab", "type": "quantitative"}, "text": {"field": "label"}}},
{"data": {"name": "axis"}, "transform": [{"filter": "datum.panel == 'K' && datum.v > 0.05 && datum.v < 50"}], "mark": {"type": "text", "align": "center", "baseline": "middle", "fontSize": 8.8}, "encoding": {"x": {"field": "v", "type": "quantitative"}, "y": {"field": "lab", "type": "quantitative"}, "text": {"field": "label"}}},
{"data": {"name": "axis"}, "transform": [{"filter": "datum.panel == 'K' && datum.v > 50"}], "mark": {"type": "text", "align": "right", "baseline": "middle", "fontSize": 8.8}, "encoding": {"x": {"field": "v", "type": "quantitative"}, "y": {"field": "lab", "type": "quantitative"}, "text": {"field": "label"}}},
{"data": {"name": "frame"}, "transform": [{"filter": "datum.panel == 'K'"}], "mark": {"type": "text", "align": "right", "baseline": "middle", "dx": -2}, "encoding": {"x": {"field": "ref", "type": "quantitative"}, "y": {"field": "fav", "type": "quantitative"}, "text": {"value": "Favours [experimental]"}}},
{"data": {"name": "frame"}, "transform": [{"filter": "datum.panel == 'K'"}], "mark": {"type": "text", "align": "left", "baseline": "middle", "dx": 3}, "encoding": {"x": {"field": "ref", "type": "quantitative"}, "y": {"field": "fav", "type": "quantitative"}, "text": {"value": "Favours [control]"}}},
{"data": {"name": "orhead"}, "mark": {"type": "text", "align": "center", "baseline": "middle", "fontWeight": "bold", "fontSize": 8.8}, "encoding": {"text": {"field": "text"}}}
],
"resolve": {"scale": {"size": "independent"}}}
],
"resolve": {"scale": {"x": "independent"}}
}
]
}
